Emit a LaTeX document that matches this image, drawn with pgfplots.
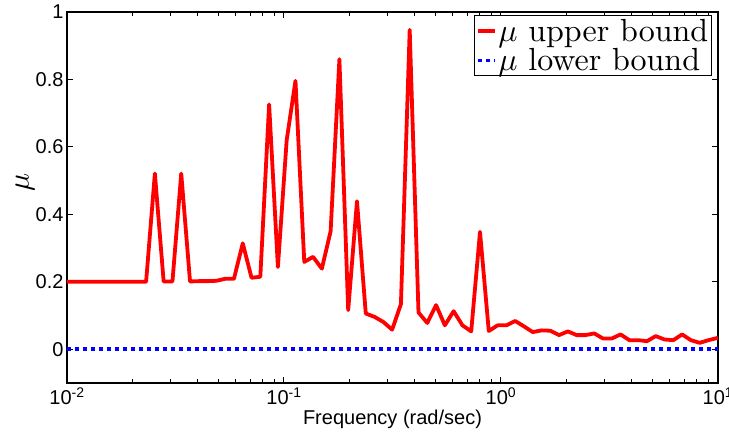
\documentclass[border=0pt]{standalone}
\usepackage{graphicx}
\usepackage{pgfplots}
\usepackage{pgfplotstable}
\pgfplotsset{compat=1.18}
\usepackage{fontspec}
\newfontfamily\arial{Liberation Sans}
\newcommand{\bigmu}[1]{\scalebox{#1}{\fontsize{10}{12}\selectfont$\mu$}}
\newcommand{\legtxt}[1]{\scalebox{3.2}{\fontsize{10}{12}\selectfont #1}}
\pgfplotstableread{
f mu
0.01000 0.200
0.01098 0.200
0.01205 0.200
0.01323 0.200
0.01452 0.200
0.01594 0.200
0.01750 0.200
0.01921 0.200
0.02109 0.200
0.02315 0.200
0.02541 0.521
0.02789 0.201
0.03062 0.201
0.03361 0.521
0.03690 0.201
0.04050 0.202
0.04446 0.202
0.04881 0.203
0.05358 0.209
0.05881 0.209
0.06456 0.314
0.07087 0.212
0.07779 0.215
0.08540 0.726
0.09374 0.244
0.10290 0.620
0.11296 0.796
0.12400 0.259
0.13612 0.274
0.14942 0.239
0.16402 0.350
0.18005 0.860
0.19765 0.116
0.21696 0.439
0.23816 0.106
0.26144 0.096
0.28698 0.081
0.31503 0.058
0.34582 0.134
0.37961 0.947
0.41670 0.109
0.45742 0.078
0.50212 0.131
0.55119 0.071
0.60505 0.113
0.66418 0.071
0.72909 0.053
0.80034 0.348
0.87855 0.054
0.96440 0.071
1.05865 0.071
1.16210 0.084
1.27566 0.068
1.40032 0.051
1.53716 0.056
1.68738 0.055
1.85227 0.042
2.03327 0.053
2.23197 0.042
2.45008 0.042
2.68950 0.047
2.95232 0.032
3.24082 0.032
3.55752 0.044
3.90517 0.027
4.28679 0.027
4.70570 0.024
5.16555 0.039
5.67034 0.029
6.22445 0.027
6.83271 0.044
7.50040 0.027
8.23335 0.019
9.03792 0.027
10.0000 0.034
}\upper
\begin{document}
\begin{tikzpicture}[x=1pt,y=1pt]
\begin{axis}[
  at={(0,0)}, anchor=south west,
  scale only axis, width=651pt, height=371pt,
  xmode=log, log basis x=10,
  xmin=0.01, xmax=10, ymin=-0.1, ymax=1,
  xtick={0.01,0.1,1,10},
  xticklabels={10\textsuperscript{-2},10\textsuperscript{-1},10\textsuperscript{0},10\textsuperscript{1}},
  minor xtick={0.02,0.03,0.04,0.05,0.06,0.07,0.08,0.09,0.2,0.3,0.4,0.5,0.6,0.7,0.8,0.9,2,3,4,5,6,7,8,9},
  ytick={0,0.2,0.4,0.6,0.8,1},
  yticklabels={0,0.2,0.4,0.6,0.8,1},
  /pgf/number format/assume math mode=true,
  tick label style={font=\arial\fontsize{20}{20}\selectfont},
  xticklabel style={yshift=-1pt},
  major tick length=6pt, minor tick length=4pt,
  axis line style={line width=1.2pt},
  tick style={line width=1pt, black},
  xlabel={Frequency (rad/sec)},
  xlabel style={font=\arial\fontsize{20}{20}\selectfont, yshift=2pt},
  ylabel={\bigmu{3}},
  ylabel style={at={(axis description cs:-0.0645,0.54)}, anchor=center},
  legend style={at={(axis description cs:0.991,0.992)}, anchor=north east,
    draw=black, line width=1pt,
    inner sep=2pt, row sep=3pt,
    nodes={inner sep=1.5pt}},
  legend cell align=left,
  legend image code/.code={\draw[#1] (0pt,0pt) -- (17pt,0pt);},
]
\addplot[color=red, line width=3.8pt, line join=round] table[x=f,y=mu]{\upper};
\addlegendentry{\legtxt{$\mu$ upper bound}}
\addplot[color=blue, line width=3.8pt, dash pattern=on 4pt off 4pt] coordinates {(0.01,0) (10,0)};
\addlegendentry{\legtxt{$\mu$ lower bound}}
\end{axis}
\pgfresetboundingbox
\useasboundingbox (-67,-53) rectangle (662,383);
\end{tikzpicture}
\end{document}
